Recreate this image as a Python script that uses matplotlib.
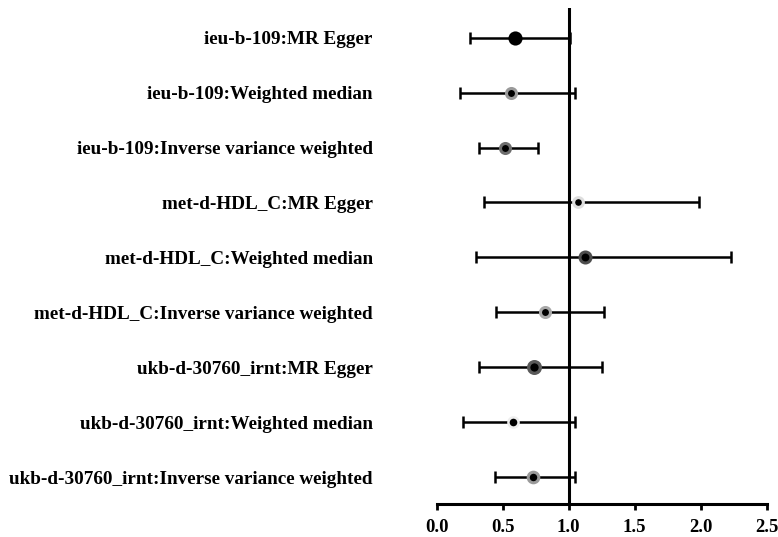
import matplotlib
matplotlib.use("Agg")
import matplotlib.pyplot as plt

labels = [
    "ieu-b-109:MR Egger",
    "ieu-b-109:Weighted median",
    "ieu-b-109:Inverse variance weighted",
    "met-d-HDL_C:MR Egger",
    "met-d-HDL_C:Weighted median",
    "met-d-HDL_C:Inverse variance weighted",
    "ukb-d-30760_irnt:MR Egger",
    "ukb-d-30760_irnt:Weighted median",
    "ukb-d-30760_irnt:Inverse variance weighted",
]
or_est = [0.59, 0.56, 0.52, 1.07, 1.12, 0.82, 0.74, 0.58, 0.73]
ci_low = [0.25, 0.18, 0.32, 0.36, 0.30, 0.45, 0.32, 0.20, 0.44]
ci_high = [1.01, 1.05, 0.77, 1.99, 2.23, 1.27, 1.25, 1.05, 1.05]

# halo colour / width / dot size around each point (style only)
halo = ["black", "#9a9a9a", "#6e6e6e", "#dedede", "#4e4e4e",
        "#a8a8a8", "#5a5a5a", "#eeeeee", "#9a9a9a"]
halo_w = [0, 2.2, 2.2, 2.2, 2.2, 2.2, 2.4, 1.8, 2.2]
dot = [10.2, 7.2, 7.2, 7.0, 7.9, 7.2, 8.4, 7.3, 7.6]

plt.rcParams["font.family"] = ["Liberation Serif", "DejaVu Serif"]
plt.rcParams["font.weight"] = "bold"

fig = plt.figure(figsize=(7.78, 5.37), dpi=100)
ax = fig.add_axes([0.5613, 0.0615, 0.4242, 0.9236])

n = len(labels)
ys = list(range(n, 0, -1))

ax.axvline(1.0, color="black", lw=2.2, zorder=1)

for i in range(n):
    ax.errorbar(or_est[i], ys[i],
                xerr=[[or_est[i] - ci_low[i]], [ci_high[i] - or_est[i]]],
                fmt="none", ecolor="black", elinewidth=1.8,
                capsize=4, capthick=1.8, zorder=2)
    ax.plot(or_est[i], ys[i], "o", ms=dot[i], mfc="black",
            mec=halo[i], mew=halo_w[i], zorder=3)

ax.set_xlim(0, 2.5)
ax.set_ylim(0.51, n + 0.54)
ax.set_xticks([0.0, 0.5, 1.0, 1.5, 2.0, 2.5])
ax.set_xticklabels(["0.0", "0.5", "1.0", "1.5", "2.0", "2.5"])
ax.set_yticks(ys)
ax.set_yticklabels(labels)

for s in ["top", "right", "left"]:
    ax.spines[s].set_visible(False)
ax.spines["bottom"].set_linewidth(2.2)
ax.tick_params(axis="x", direction="out", length=4.5, width=2.0,
               labelsize=13.5, pad=6)
ax.tick_params(axis="y", length=0, labelsize=13.8, pad=46)
for t in ax.get_xticklabels() + ax.get_yticklabels():
    t.set_fontweight("bold")

fig.savefig("out.png", dpi=100)
